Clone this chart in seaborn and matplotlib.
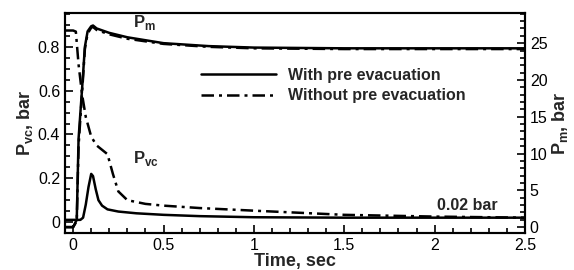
import matplotlib
matplotlib.use("Agg")
import matplotlib.pyplot as plt
from matplotlib.lines import Line2D
from matplotlib.ticker import MultipleLocator, FuncFormatter
import seaborn as sns

# vacuum chamber pressure, left axis (bar)
t_pvc_with = [-0.04, 0.0, 0.04, 0.055, 0.07, 0.085, 0.1, 0.11, 0.125, 0.14, 0.16,
              0.19, 0.25, 0.35, 0.5, 0.7, 1.0, 1.5, 2.0, 2.5]
pvc_with = [0.01, 0.01, 0.01, 0.02, 0.08, 0.16, 0.22, 0.21, 0.15, 0.10, 0.075,
            0.058, 0.048, 0.040, 0.033, 0.027, 0.022, 0.020, 0.020, 0.020]

t_pvc_without = [-0.04, 0.0, 0.015, 0.02, 0.03, 0.05, 0.07, 0.1, 0.13, 0.16, 0.19,
                 0.22, 0.25, 0.3, 0.4, 0.5, 0.7, 1.0, 1.5, 2.0, 2.5]
pvc_without = [0.875, 0.875, 0.87, 0.82, 0.72, 0.58, 0.48, 0.39, 0.35, 0.33, 0.31,
               0.22, 0.14, 0.10, 0.083, 0.075, 0.064, 0.052, 0.033, 0.025, 0.020]

# manifold pressure, right axis (bar)
t_pm = [-0.04, 0.0, 0.02, 0.03, 0.05, 0.065, 0.08, 0.1, 0.11, 0.13, 0.2, 0.3,
        0.5, 0.75, 1.0, 1.5, 2.0, 2.5]
pm_with = [0.0, 0.0, 1.0, 12.0, 19.0, 24.5, 26.6, 27.3, 27.4, 27.0, 26.4, 25.8,
           25.0, 24.6, 24.4, 24.3, 24.3, 24.3]
pm_without = [0.0, 0.0, 0.8, 11.0, 18.5, 24.2, 26.3, 27.1, 27.2, 26.8, 26.2, 25.6,
              24.9, 24.5, 24.3, 24.2, 24.2, 24.2]

DASHDOT = (0, (5, 2, 1.2, 2))


def main():
    sns.set_theme(style="white")
    plt.rcParams["font.family"] = ["Liberation Sans", "DejaVu Sans"]
    plt.rcParams["mathtext.fontset"] = "custom"
    plt.rcParams["mathtext.rm"] = "Liberation Sans"
    plt.rcParams["mathtext.bf"] = "Liberation Sans:bold"

    fig, ax = plt.subplots(figsize=(5.74, 2.70), dpi=100)
    fig.subplots_adjust(left=65 / 574, right=525 / 574, bottom=1 - 233 / 270, top=1 - 13 / 270)
    ax2 = ax.twinx()

    lw = 1.8
    sns.lineplot(x=t_pvc_with, y=pvc_with, ax=ax, color="black", linewidth=lw)
    sns.lineplot(x=t_pvc_without, y=pvc_without, ax=ax, color="black",
                 linewidth=lw, linestyle=DASHDOT)
    sns.lineplot(x=t_pm, y=pm_with, ax=ax2, color="black", linewidth=lw)
    sns.lineplot(x=t_pm, y=pm_without, ax=ax2, color="black",
                 linewidth=lw, linestyle=DASHDOT)

    ax.set_xlim(-0.045, 2.5)
    ax.set_ylim(-0.05, 0.955)
    ax2.set_ylim(-0.8, 29.1)

    ax.xaxis.set_major_locator(MultipleLocator(0.5))
    ax.xaxis.set_minor_locator(MultipleLocator(0.1))
    ax.yaxis.set_major_locator(MultipleLocator(0.2))
    ax.yaxis.set_minor_locator(MultipleLocator(0.05))
    ax2.yaxis.set_major_locator(MultipleLocator(5))
    ax2.yaxis.set_minor_locator(MultipleLocator(1))
    ax.xaxis.set_major_formatter(FuncFormatter(lambda v, p: f"{v:g}"))
    ax.yaxis.set_major_formatter(FuncFormatter(lambda v, p: f"{v:g}"))

    for a in (ax, ax2):
        for s in a.spines.values():
            s.set_linewidth(1.5)
            s.set_color("black")
    ax.tick_params(which="both", direction="in", colors="black", labelsize=11.5,
                   left=True, bottom=True, right=False, top=False, width=1.2)
    ax.tick_params(which="major", length=6)
    ax.tick_params(which="minor", length=3.5)
    ax2.tick_params(which="both", direction="in", colors="black", labelsize=11.5,
                    right=True, left=False, width=1.2)
    ax2.tick_params(which="major", length=6)
    ax2.tick_params(which="minor", length=3.5)

    ax.set_xlabel("Time, sec", fontsize=13, fontweight="bold", labelpad=0)
    ax.set_ylabel(r"P$_{\mathbf{vc}}$, bar", fontsize=13, fontweight="bold", labelpad=2)
    ax2.set_ylabel(r"P$_{\mathbf{m}}$, bar", fontsize=13, fontweight="bold", labelpad=2)

    ax.text(0.33, 0.89, r"P$_{\mathbf{m}}$", fontsize=12, fontweight="bold")
    ax.text(0.33, 0.27, r"P$_{\mathbf{vc}}$", fontsize=12, fontweight="bold")
    ax.text(2.18, 0.055, "0.02 bar", fontsize=11.5, fontweight="bold", ha="center")

    handles = [
        Line2D([], [], color="black", linewidth=lw),
        Line2D([], [], color="black", linewidth=lw, linestyle=DASHDOT),
    ]
    ax.legend(handles, ["With pre evacuation", "Without pre evacuation"],
              loc="upper left", bbox_to_anchor=(0.265, 0.815), frameon=False,
              handlelength=4.7, handletextpad=0.7, labelspacing=0.32,
              prop={"weight": "bold", "size": 11.5})

    fig.savefig("out.png", dpi=100)
    plt.close(fig)


if __name__ == "__main__":
    main()
